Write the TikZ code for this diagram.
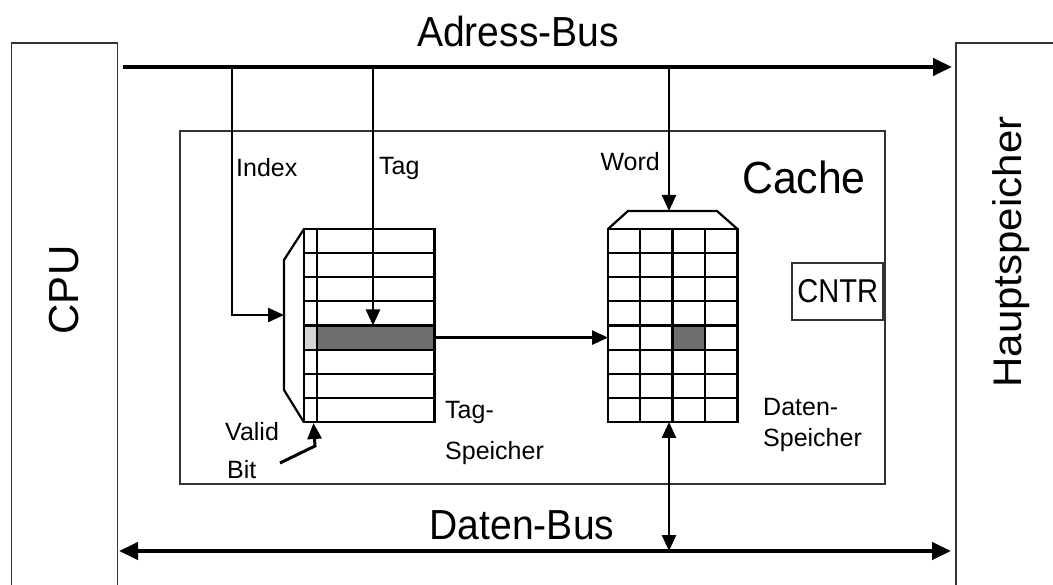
\documentclass[tikz,border=0pt]{standalone}
\usepackage{fontspec}
\setmainfont{Liberation Sans}
\usetikzlibrary{arrows.meta}
\begin{document}
\begin{tikzpicture}[x=1pt,y=-1pt,
  frame/.style={draw=black!80, line width=1.6pt, inner sep=0pt},
  gridline/.style={line width=2.2pt},
  bus/.style={line width=4.4pt},
  bigtip/.tip={Triangle[length=19pt,width=17pt]},
  smalltip/.tip={Triangle[length=16pt,width=14pt]},
  arr/.style={line width=2.5pt, -smalltip},
  biglbl/.style={inner sep=0pt, font=\fontsize{42}{44}\selectfont},
  lbl/.style={inner sep=0pt, anchor=west, font=\fontsize{25}{27}\selectfont},
]
\useasboundingbox (0,0) rectangle (1053,585);
\fill[white] (0,0) rectangle (1053,585);

% outer blocks
\node[frame, anchor=north west, minimum width=106, minimum height=600] (cpu) at (10.5,42) {};
\node[frame, anchor=north west, minimum width=150, minimum height=600] (hs) at (955,42) {};
\node[biglbl, rotate=90] (cputxt) at (64,290) {CPU};
\node[biglbl, rotate=90, yscale=0.95] (hstxt) at (1011,252) {Hauptspeicher};

% cache
\node[frame, anchor=north west, minimum width=705, minimum height=353] (cache) at (179,130) {};
\node[inner sep=0pt, font=\fontsize{45}{47}\selectfont, xscale=0.95] (cachetxt) at (804,177) {Cache};
\node[frame, anchor=north east, minimum width=91, minimum height=57] (cntr) at (884,262) {};
\node[inner sep=0pt, font=\fontsize{33}{35}\selectfont, xscale=0.88] (cntrtxt) at (cntr.center) {CNTR};

% tag memory
\def\rh{24.125}
\node[anchor=north west, minimum width=130, minimum height=193, inner sep=0pt] (tagmem) at (304,229) {};
\fill[black!17] (304,229+4*\rh) rectangle (317,229+5*\rh);
\fill[black!57] (317,229+4*\rh) rectangle (434,229+5*\rh);
\foreach \i in {0,...,8} \draw[gridline] (304,229+\i*\rh) -- (434,229+\i*\rh);
\draw[gridline] (tagmem.north west) rectangle (tagmem.south east);
\draw[gridline] (317,229) -- (317,422);
\draw[gridline] (tagmem.north west) -- (284,260) -- (284,390) -- (tagmem.south west);
\coordinate (dec) at (284,315);

% data memory
\node[anchor=north west, minimum width=129, minimum height=193, inner sep=0pt] (datamem) at (608,229) {};
\fill[black!57] (672.5,229+4*\rh) rectangle (704.75,229+5*\rh);
\foreach \i in {0,...,8} \draw[gridline] (608,229+\i*\rh) -- (737,229+\i*\rh);
\foreach \x in {640.25,672.5,704.75} \draw[gridline] (\x,229) -- (\x,422);
\draw[gridline] (datamem.north west) rectangle (datamem.south east);
\draw[gridline] (datamem.north west) -- (628,211) -- (717,211) -- (datamem.north east);
\coordinate (mux) at (669,211);
\coordinate (datbot) at (669,422);

% buses
\coordinate (abL) at (123,67);
\coordinate (abR) at (952,67);
\coordinate (dbL) at (119,551);
\coordinate (dbR) at (951,551);
\draw[bus, -bigtip] (abL) -- (abR);
\draw[bus, bigtip-bigtip] (dbL) -- (dbR);
\node[biglbl, xscale=0.93] (abtxt) at (518,31) {Adress-Bus};
\node[biglbl, xscale=0.93] (dbtxt) at (522,525) {Daten-Bus};

% taps
\coordinate (tapI) at (232,67);
\coordinate (tapT) at (373,67);
\coordinate (tapW) at (669,67);
\coordinate (tapD) at (669,551);
\coordinate (tagrow) at (373,325.5);
\coordinate (rowR) at (434,337.6);
\coordinate (rowL) at (608,337.6);
\coordinate (vb) at (280,463);
\coordinate (vbk) at (315,446);
\coordinate (vbt) at (313.5,423);

\draw[arr] (tapI) |- (dec);
\draw[arr] (tapT) -- (tagrow);
\draw[arr] (tapW) -- (mux);
\draw[arr] (rowR) -- (rowL);
\draw[line width=2.5pt, smalltip-smalltip] (datbot) -- (tapD);
\draw[line width=3pt, -smalltip] (vb) -- (vbk) -- (vbt);

% labels
\node[lbl] (idx) at (236,168) {Index};
\node[lbl] (tg) at (379,168) {Tag};
\node[lbl, anchor=east] (wd) at (660,162) {Word};
\node[lbl] (vl) at (225,432) {Valid};
\node[lbl] (bt) at (227,470) {Bit};
\node[lbl] (ts1) at (445,412) {Tag-};
\node[lbl] (ts2) at (445,453) {Speicher};
\node[lbl] (ds1) at (763,407) {Daten-};
\node[lbl] (ds2) at (763,440) {Speicher};
\end{tikzpicture}
\end{document}
